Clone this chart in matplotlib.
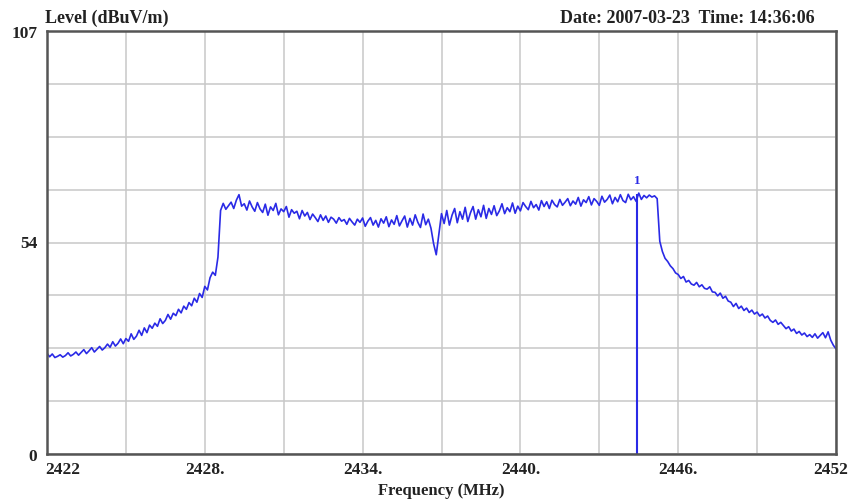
import numpy as np
import matplotlib
matplotlib.use("Agg")
import matplotlib.pyplot as plt
from matplotlib.ticker import FixedLocator
from matplotlib.transforms import ScaledTranslation

# Sweep: 2422.0 .. 2452.0 MHz, 0.1 MHz steps (301 points)
freq_start, freq_stop, n_points = 2422.0, 2452.0, 301
level = [
    25.5, 24.6, 25.3, 24.4, 24.7, 25.1, 24.5, 24.9, 25.6, 24.8,
    25.2, 25.8, 25.0, 25.7, 26.4, 25.4, 26.1, 26.9, 25.8, 26.5,
    27.2, 26.3, 26.9, 27.8, 27.0, 28.4, 27.3, 28.0, 29.1, 27.9,
    29.2, 28.5, 30.4, 29.0, 29.8, 31.3, 30.0, 31.9, 30.7, 32.6,
    31.8, 33.1, 32.3, 34.2, 33.0, 33.8, 35.3, 34.1, 35.6, 35.0,
    36.6, 35.7, 37.4, 36.6, 38.3, 37.5, 39.4, 38.4, 40.6, 39.6,
    42.4, 41.5, 44.6, 46.0, 45.2, 49.8, 61.6, 63.4, 61.9, 62.8,
    63.7, 62.1, 64.2, 65.6, 62.7, 63.3, 61.7, 64.0, 62.5, 61.4,
    63.6, 62.0, 61.1, 63.2, 60.4, 62.5, 61.6, 63.4, 60.5, 62.0,
    61.3, 62.6, 59.9, 61.8, 60.9, 61.4, 59.5, 61.6, 60.2, 61.1,
    59.3, 60.7, 59.8, 58.8, 60.5, 59.1, 60.2, 58.6, 59.9, 59.4,
    58.4, 59.8, 58.9, 59.3, 58.1, 59.6, 58.7, 57.9, 59.4, 58.6,
    59.7, 57.6, 58.9, 59.8, 57.9, 59.1, 57.4, 59.5, 58.4, 60.0,
    57.5, 59.2, 58.1, 60.3, 57.7, 59.0, 60.2, 57.4, 59.6, 57.9,
    60.5, 58.6, 57.3, 60.7, 58.0, 59.4, 57.1, 53.2, 50.4, 55.6,
    60.8, 58.3, 61.6, 57.9, 60.4, 62.1, 58.5, 61.3, 59.4, 62.4,
    58.8, 61.0, 62.6, 59.4, 61.8, 60.0, 62.9, 59.6, 62.1, 60.6,
    62.8, 60.3, 61.5, 63.3, 60.8, 62.3, 61.3, 63.5, 60.9, 62.7,
    61.5, 63.6, 62.6, 61.8, 63.9, 62.3, 63.1, 61.7, 64.1, 62.6,
    63.8, 62.1, 64.2, 63.1, 62.5, 64.4, 62.9, 63.7, 64.6, 62.8,
    64.0, 63.2, 64.9, 62.7, 64.3, 63.6, 65.1, 63.0, 64.6, 63.9,
    62.9, 65.2, 63.7, 64.4, 65.5, 63.3, 64.9, 63.8, 65.6, 64.1,
    63.6, 65.7, 64.3, 65.1, 63.9, 66.0, 64.4, 65.4, 64.8, 65.5,
    65.0, 65.3, 64.6, 53.8, 51.2, 49.5, 48.7, 47.6, 46.9, 45.8,
    45.4, 44.4, 44.9, 43.5, 43.9, 43.0, 42.7, 43.4, 42.3, 42.8,
    41.9, 41.7, 42.3, 41.0, 40.9, 40.0, 40.7, 39.4, 39.9, 38.7,
    38.4, 37.3, 38.1, 36.8, 37.4, 36.3, 36.9, 35.8, 36.4, 35.4,
    35.9, 34.9, 35.4, 34.4, 34.9, 33.8, 33.3, 33.9, 32.8, 33.3,
    32.5, 31.7, 32.2, 31.1, 31.6, 30.5, 31.0, 30.1, 30.6, 29.7,
    30.2, 29.5, 30.4, 29.3, 30.0, 30.7, 29.4, 30.9, 28.8, 27.5,
    26.6,
]
freq = np.linspace(freq_start, freq_stop, n_points)

marker_freq = 2444.45
marker_level = 65.8
marker_label = "1"

x_ticks = [2422, 2428, 2434, 2440, 2446, 2452]
x_tick_labels = ["2422", "2428.", "2434.", "2440.", "2446.", "2452"]
x_divisions = 10
y_divisions = 8
y_ticks = [0, 54, 107]
y_min, y_max = 0, 107

trace_color = "#2a2ae6"
serif = ["Liberation Serif", "DejaVu Serif"]

fig = plt.figure(figsize=(8.52, 5.02), dpi=100)
ax = fig.add_axes([47 / 852, 1 - 455 / 502, (836 - 47) / 852, (455 - 32) / 502])

ax.plot(freq, level, color=trace_color, lw=1.2)
ax.vlines(marker_freq, 0, marker_level, color=trace_color, lw=1.5)
ax.text(marker_freq, marker_level + 2.0, marker_label, color=trace_color,
        ha="center", va="bottom", fontsize=9.5, fontweight="bold", family=serif)

ax.set_xlim(freq_start, freq_stop)
ax.set_ylim(y_min, y_max)

# grid: 10 vertical and 8 horizontal divisions (kept even where they meet a labelled tick)
ax.xaxis.remove_overlapping_locs = False
ax.yaxis.remove_overlapping_locs = False
ax.xaxis.set_minor_locator(FixedLocator(
    [freq_start + (freq_stop - freq_start) * i / x_divisions for i in range(x_divisions + 1)]))
ax.yaxis.set_minor_locator(FixedLocator([y_max * i / y_divisions for i in range(y_divisions + 1)]))
ax.grid(which="minor", color="#c8c8c8", lw=1.1)
ax.grid(which="major", visible=False)
ax.set_axisbelow(True)

ax.set_xticks(x_ticks)
ax.set_xticklabels(x_tick_labels)
ax.set_yticks(y_ticks)
ax.tick_params(which="both", length=0)
ax.tick_params(axis="x", pad=5)
ax.tick_params(axis="y", pad=7)
for lab in ax.get_xticklabels() + ax.get_yticklabels():
    lab.set_family(serif)
    lab.set_fontweight("bold")
    lab.set_fontsize(12.5)
    lab.set_color("#222222")
xl = ax.get_xticklabels()
xl[0].set_ha("left")
xl[0].set_transform(xl[0].get_transform() + ScaledTranslation(-2 / 100, 0, fig.dpi_scale_trans))
xl[-1].set_ha("right")
xl[-1].set_transform(xl[-1].get_transform() + ScaledTranslation(12 / 100, 0, fig.dpi_scale_trans))

for s in ax.spines.values():
    s.set_color("#555555")
    s.set_linewidth(1.8)

ax.set_xlabel("Frequency (MHz)", family=serif, fontweight="bold", fontsize=12,
              color="#222222", labelpad=4)

fig.text(45 / 852, 1 - 23 / 502, "Level (dBuV/m)", family=serif, fontweight="bold",
         fontsize=13, color="#222222", ha="left", va="baseline")
fig.text(815 / 852, 1 - 23 / 502, "Date: 2007-03-23  Time: 14:36:06", family=serif,
         fontweight="bold", fontsize=13, color="#222222", ha="right", va="baseline")

fig.savefig("out.png", dpi=100)
